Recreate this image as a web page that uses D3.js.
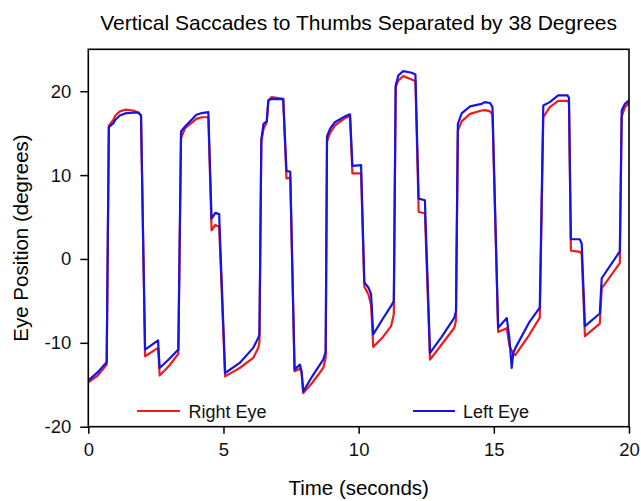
<!DOCTYPE html>
<html>
<head>
<meta charset="utf-8">
<script src="https://cdn.jsdelivr.net/npm/d3@7"></script>
<style>
  html, body { margin: 0; padding: 0; background: #fff; }
  svg { display: block; font-family: "Liberation Sans", Arial, sans-serif; }
</style>
</head>
<body>
<svg id="chart" width="641" height="501"></svg>
<script>
// Sample times (s) shared by both traces
const timeSec = [
  0.00, 0.35, 0.68, 0.76, 0.93, 1.00, 1.17, 1.36, 1.66, 1.85, 1.95,
  2.10, 2.58, 2.64, 3.00, 3.33, 3.43, 3.58, 4.00, 4.20, 4.44,
  4.56, 4.70, 4.84, 5.06, 5.60, 6.10, 6.29, 6.33, 6.40, 6.48, 6.60, 6.66, 6.78, 7.21,
  7.33, 7.47, 7.63, 7.83, 7.89, 7.95, 8.30, 8.69, 8.78, 8.83, 8.94, 9.12, 9.49, 9.68,
  9.77, 10.09, 10.21, 10.36, 10.46, 10.54, 10.90, 11.20, 11.30, 11.37, 11.47, 11.65, 11.96, 12.10,
  12.22, 12.45, 12.64, 13.07, 13.54, 13.60, 13.67, 13.81, 14.12, 14.55, 14.67, 14.86, 14.95,
  15.16, 15.48, 15.58, 15.66, 15.72, 15.80, 16.30, 16.70, 16.83, 17.07, 17.38, 17.73, 17.78,
  17.85, 18.18, 18.25, 18.37, 18.92, 18.99, 19.66, 19.73, 19.85, 20.00
];

// Right eye vertical position (degrees)
const rightEye = [
  -14.7, -13.9, -12.6, 15.9, 16.6, 17.1, 17.6, 17.8, 17.7, 17.45, 17.1,
  -11.6, -10.6, -13.9, -12.7, -11.3, 14.4, 15.6, 16.7, 16.9, 16.9,
  3.4, 4.05, 3.85, -14.0, -13.0, -11.8, -10.6, -9.9, 14.0, 15.5, 16.3, 18.9, 19.3, 19.1,
  9.6, 9.7, -13.4, -13.1, -13.6, -16.0, -14.7, -13.0, -11.8, 14.0, 15.0, 15.9, 16.8, 17.0,
  10.2, 10.2, -3.3, -4.2, -5.5, -10.5, -9.3, -8.0, -6.6, 20.5, 21.3, 21.8, 21.4, 21.2,
  5.6, 5.45, -12.0, -10.2, -8.2, -7.3, 15.3, 16.4, 17.3, 17.7, 17.75, 17.6, 17.2,
  -8.7, -8.25, -10.4, -10.9, -11.3, -11.45, -9.1, -7.0, 16.9, 18.1, 18.85, 18.85, 18.6,
  1.0, 0.85, 0.6, -9.2, -7.7, -3.5, -0.5, 17.0, 18.1, 18.6
];

// Left eye vertical position (degrees)
const leftEye = [
  -14.5, -13.5, -12.3, 15.7, 16.2, 16.6, 17.1, 17.35, 17.45, 17.45, 17.1,
  -10.8, -9.7, -13.0, -11.9, -10.8, 15.2, 15.8, 17.2, 17.4, 17.5,
  4.8, 5.5, 5.35, -13.6, -12.4, -10.6, -9.4, -9.0, 14.2, 16.1, 16.4, 18.9, 19.1, 19.05,
  10.5, 10.4, -13.2, -12.6, -13.4, -15.8, -13.9, -12.0, -11.1, 14.6, 15.5, 16.3, 17.0, 17.25,
  11.1, 11.2, -2.8, -3.4, -4.2, -9.0, -7.1, -5.6, -5.0, 20.7, 21.9, 22.4, 22.2, 22.0,
  7.2, 7.0, -11.2, -9.3, -7.0, -6.2, 16.1, 17.35, 18.2, 18.5, 18.7, 18.6, 18.1,
  -8.2, -7.05, -9.6, -13.0, -11.2, -10.6, -7.6, -5.8, 18.3, 18.7, 19.5, 19.5, 19.2,
  2.35, 2.35, 1.85, -8.0, -6.5, -2.3, 0.9, 17.7, 18.5, 18.9
];

const xTicks = [0, 5, 10, 15, 20];
const yTicks = [-20, -10, 0, 10, 20];
const seriesNames = ["Right Eye", "Left Eye"];
const seriesColors = ["#ee1b1b", "#1414e6"];

const svg = d3.select("#chart");
const plot = { left: 88.3, right: 629, top: 49.3, bottom: 426.7 };

const x = d3.scaleLinear().domain([0, 20]).range([plot.left, plot.right]);
const y = d3.scaleLinear().domain([-20, 25]).range([plot.bottom, plot.top]);

// Title
svg.append("text")
  .attr("x", (plot.left + plot.right) / 2)
  .attr("y", 30)
  .attr("text-anchor", "middle")
  .style("font-size", "21px")
  .text("Vertical Saccades to Thumbs Separated by 38 Degrees");

// Axes (plain hyphen for negative labels)
const tickFmt = d => String(d);
const xAxis = svg.append("g")
  .attr("transform", `translate(0,${plot.bottom})`)
  .call(d3.axisBottom(x).tickValues(xTicks).tickSize(7).tickPadding(9).tickFormat(tickFmt));
const yAxis = svg.append("g")
  .attr("transform", `translate(${plot.left},0)`)
  .call(d3.axisLeft(y).tickValues(yTicks).tickSize(8).tickPadding(9).tickFormat(tickFmt));

[xAxis, yAxis].forEach(g => {
  g.select(".domain").remove();
  g.selectAll(".tick line").attr("stroke", "#000").attr("stroke-width", 1.5);
  g.selectAll(".tick text")
    .attr("fill", "#111")
    .style("font-size", "18.5px")
    .style("font-family", "'Liberation Sans', Arial, sans-serif");
});

// Axis titles
svg.append("text")
  .attr("x", (plot.left + plot.right) / 2)
  .attr("y", 495)
  .attr("text-anchor", "middle")
  .style("font-size", "20.5px")
  .text("Time (seconds)");

svg.append("text")
  .attr("transform", "translate(28,238) rotate(-90)")
  .attr("text-anchor", "middle")
  .style("font-size", "20.5px")
  .text("Eye Position (degrees)");

// Traces: right eye first, left eye drawn over it
const line = d3.line()
  .x((d, i) => x(timeSec[i]))
  .y(d => y(d));

svg.append("clipPath").attr("id", "plot-clip")
  .append("rect")
  .attr("x", plot.left).attr("y", plot.top)
  .attr("width", plot.right - plot.left).attr("height", plot.bottom - plot.top);

const traces = svg.append("g").attr("clip-path", "url(#plot-clip)");
[rightEye, leftEye].forEach((vals, k) => {
  traces.append("path")
    .datum(vals)
    .attr("fill", "none")
    .attr("stroke", seriesColors[k])
    .attr("stroke-width", 2.2)
    .attr("stroke-linejoin", "round")
    .attr("d", line);
});

// Plot frame
svg.append("rect")
  .attr("x", plot.left).attr("y", plot.top)
  .attr("width", plot.right - plot.left).attr("height", plot.bottom - plot.top)
  .attr("fill", "none")
  .attr("stroke", "#000")
  .attr("stroke-width", 1.6);

// Legend
const legendItems = [
  { x1: 137, x2: 180, tx: 188.5 },
  { x1: 413, x2: 455, tx: 463 }
];
const legend = svg.append("g");
legendItems.forEach((it, k) => {
  legend.append("line")
    .attr("x1", it.x1).attr("x2", it.x2)
    .attr("y1", 411).attr("y2", 411)
    .attr("stroke", seriesColors[k])
    .attr("stroke-width", 2.1);
  legend.append("text")
    .attr("x", it.tx).attr("y", 417.5)
    .style("font-size", "18px")
    .attr("fill", "#111")
    .text(seriesNames[k]);
});
</script>
</body>
</html>
